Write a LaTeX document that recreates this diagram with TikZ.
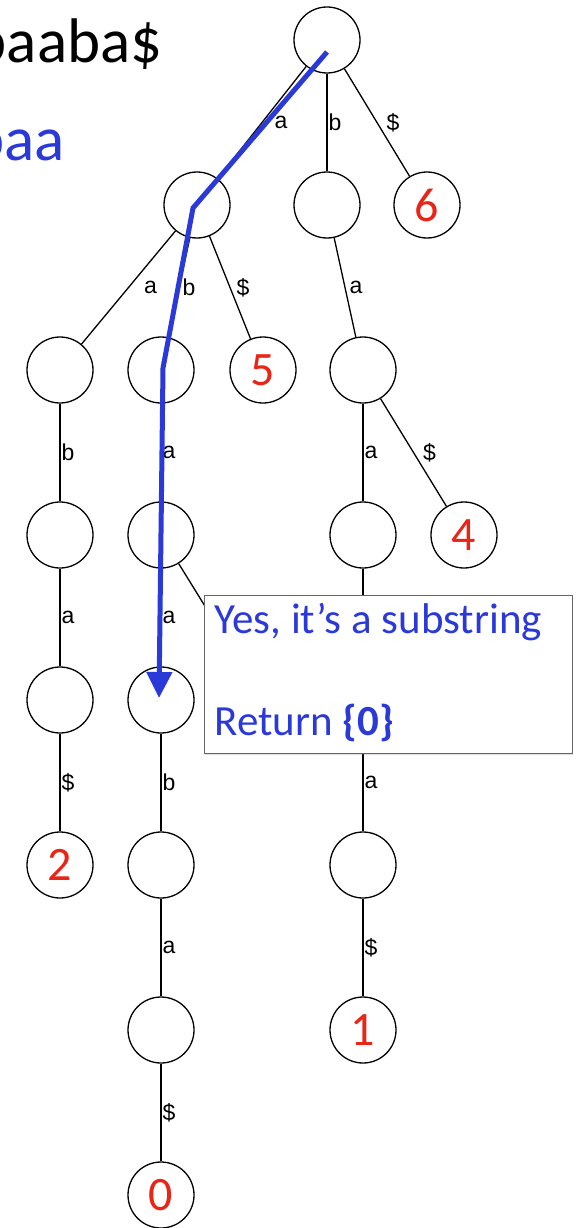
\documentclass[tikz,border=0pt]{standalone}
\usepackage{fontspec}
\setmainfont{Carlito}
\newfontfamily\edgefont{Liberation Sans}
\usetikzlibrary{arrows.meta,shadows}
\definecolor{qblue}{RGB}{43,57,216}
\definecolor{leafred}{RGB}{232,37,22}

\begin{document}
\begin{tikzpicture}[x=1pt,y=-1pt,
  st/.style={draw,circle,line width=1.3pt,minimum size=66pt,inner sep=0pt,
    text=leafred,font=\fontsize{48}{48}\selectfont},
  edge/.style={line width=1.3pt},
  lbl/.style={midway,right,inner sep=1pt,font=\edgefont\fontsize{23}{23}\selectfont},
  msgbox/.style={draw=black!60,line width=1pt,fill=white,
    drop shadow={opacity=0.25,shadow xshift=0.5pt,shadow yshift=-1pt}},
  msgtext/.style={anchor=base west,text=qblue,font=\fontsize{43}{43}\selectfont},
  qpath/.style={qblue,line width=5pt,-{Triangle[length=26pt,width=25pt]}}]
\useasboundingbox (0,0) rectangle (583,1228);
\clip (0,0) rectangle (583,1228);
% text and pattern
\node[anchor=base east,font=\fontsize{63}{63}\selectfont] (ttext) at (166,63) {abaaba\$};
\node[anchor=base east,text=qblue,font=\fontsize{63}{63}\selectfont] (ptext) at (68,160) {abaa};
% trie nodes
\node[st] (root) at (327,40) {};
\node[st] (na) at (197,205) {};
\node[st] (nb) at (327,205) {};
\node[st] (n6) at (427,205) {6};
\node[st] (naa) at (60,370) {};
\node[st] (nab) at (161,370) {};
\node[st] (n5) at (263,370) {5};
\node[st] (nba) at (363,370) {};
\node[st] (naab) at (60,535) {};
\node[st] (naba) at (161,535) {};
\node[st] (nbaa) at (363,535) {};
\node[st] (n4) at (464,535) {4};
\node[st] (naaba) at (60,700) {};
\node[st] (nabaa) at (161,700) {};
\node[st] (n3) at (263,700) {};
\node[st] (nbaab) at (363,700) {};
\node[st] (n2) at (60,865) {2};
\node[st] (nabaab) at (161,865) {};
\node[st] (nbaaba) at (363,865) {};
\node[st] (nabaaba) at (161,1030) {};
\node[st] (n1) at (363,1030) {1};
\node[st] (n0) at (161,1195) {0};
% edges
\draw[edge] (root) -- (na) node[lbl,xshift=11pt]{a};
\draw[edge] (root) -- (nb) node[lbl]{b};
\draw[edge] (root) -- (n6) node[lbl,xshift=8pt]{\$};
\draw[edge] (na) -- (naa) node[lbl,xshift=14pt]{a};
\draw[edge] (na) -- (nab) node[lbl,xshift=2pt]{b};
\draw[edge] (na) -- (n5) node[lbl,xshift=5pt]{\$};
\draw[edge] (nb) -- (nba) node[lbl,xshift=3pt]{a};
\draw[edge] (nba) -- (nbaa) node[lbl]{a};
\draw[edge] (nba) -- (n4) node[lbl,xshift=8pt]{\$};
\draw[edge] (naa) -- (naab) node[lbl]{b};
\draw[edge] (naab) -- (naaba) node[lbl]{a};
\draw[edge] (naaba) -- (n2) node[lbl]{\$};
\draw[edge] (nab) -- (naba) node[lbl]{a};
\draw[edge] (naba) -- (nabaa) node[lbl]{a};
\draw[edge] (naba) -- (n3);
\draw[edge] (nbaa) -- (nbaab);
\draw[edge] (nabaa) -- (nabaab) node[lbl]{b};
\draw[edge] (nabaab) -- (nabaaba) node[lbl]{a};
\draw[edge] (nabaaba) -- (n0) node[lbl]{\$};
\draw[edge] (nbaab) -- (nbaaba) node[lbl]{a};
\draw[edge] (nbaaba) -- (n1) node[lbl]{\$};
% answer box
\node[msgbox,anchor=north west,minimum width=368pt,minimum height=158pt] (msg) at (204,595) {};
\node[msgtext] (msgtop) at (211,633) {Yes, it’s a substring};
\node[msgtext] (msgbot) at (211,735) {Return \textbf{\{0\}}};
% search path
\coordinate (p0) at (327,52);
\coordinate (p1) at (193,208);
\coordinate (p2) at (163,368);
\coordinate (p3) at (159,698);
\draw[qpath] (p0) -- (p1) -- (p2) -- (p3);
\end{tikzpicture}
\end{document}
